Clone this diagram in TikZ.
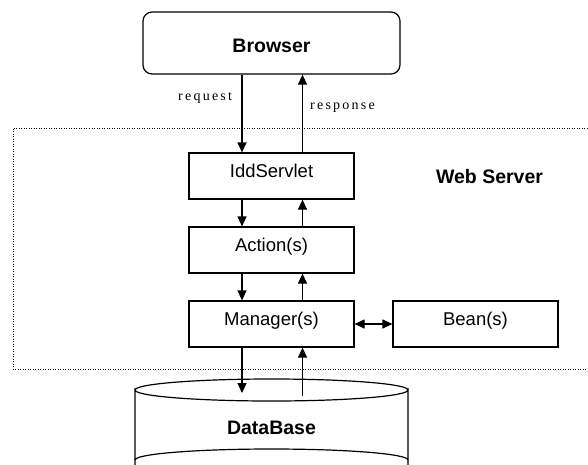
\documentclass[tikz,border=0pt]{standalone}
\usepackage{fontspec}
\newfontfamily\labfont{Liberation Sans}
\newfontfamily\smallfont[LetterSpace=16]{Liberation Serif}
\usetikzlibrary{arrows.meta}
\tikzset{
  box/.style={draw, line width=1.2pt, minimum width=165pt, minimum height=46pt, inner sep=0pt,
    text height=13pt, text depth=11pt, font=\labfont\fontsize{18.5}{20}\selectfont},
  boldlab/.style={inner sep=0pt, font=\labfont\bfseries\fontsize{19.5}{21}\selectfont},
  smalllab/.style={inner sep=0pt, font=\smallfont\fontsize{14}{15}\selectfont},
  arr/.style={line width=1.2pt, -{Triangle[width=9pt,length=10pt]}},
  dbl/.style={line width=1.2pt, {Triangle[width=9pt,length=10pt]}-{Triangle[width=9pt,length=10pt]}},
  frame/.style={line width=0.8pt, dash pattern=on 1pt off 1.5pt},
  cyl/.style={line width=1.2pt}
}
\begin{document}
\begin{tikzpicture}[x=1pt,y=-1pt]
\useasboundingbox (0,0) rectangle (588,464);
\clip (0,0) rectangle (588,464);
\fill[white] (0,0) rectangle (588,464);
% web server frame
\draw[frame] (600,128) -- (13,128) -- (13,369) -- (600,369);
% nodes
\node[draw, line width=1.2pt, rounded corners=9pt, minimum width=257pt, minimum height=62pt, inner sep=0pt,
  text height=18pt, text depth=0pt, boldlab] (browser) at (271.5,43) {Browser};
\node[box] (idd) at (271.5,176) {IddServlet};
\node[box] (act) at (271.5,250) {Action(s)};
\node[box] (mgr) at (271.5,324) {Manager(s)};
\node[box] (bean) at (475.5,324) {Bean(s)};
\node[boldlab, anchor=base] (ws) at (489.5,183) {Web Server};
% database cylinder
\coordinate (dbtop) at (271.5,390);
\draw[cyl] (135,466) -- (135,390) arc[start angle=180, end angle=0, x radius=136.5, y radius=11]
  -- (408,466);
\draw[cyl] (135,390) arc[start angle=180, end angle=360, x radius=136.5, y radius=11];
\draw[cyl] (135,460) arc[start angle=180, end angle=360, x radius=136.5, y radius=11];
\node[boldlab, anchor=base] (db) at (271.5,434) {DataBase};
% labels
\node[smalllab, anchor=base west] (req) at (178,100) {request};
\node[smalllab, anchor=base west] (resp) at (310,109) {response};
% connectors
\draw[arr] ([xshift=-29.5pt]browser.south) -- ([xshift=-29.5pt]idd.north);
\draw[arr] ([xshift=31pt]idd.north) -- ([xshift=31pt]browser.south);
\draw[arr] ([xshift=-29.5pt]idd.south) -- ([xshift=-29.5pt]act.north);
\draw[arr] ([xshift=31pt]act.north) -- ([xshift=31pt]idd.south);
\draw[arr] ([xshift=-29.5pt]act.south) -- ([xshift=-29.5pt]mgr.north);
\draw[arr] ([xshift=31pt]mgr.north) -- ([xshift=31pt]act.south);
\draw[arr] ([xshift=-29.5pt]mgr.south) -- ([xshift=-29.5pt,yshift=-3pt]dbtop);
\draw[arr] ([xshift=31pt,yshift=-6pt]dbtop) -- ([xshift=31pt]mgr.south);
\draw[dbl] (mgr.east) -- (bean.west);
\end{tikzpicture}
\end{document}
